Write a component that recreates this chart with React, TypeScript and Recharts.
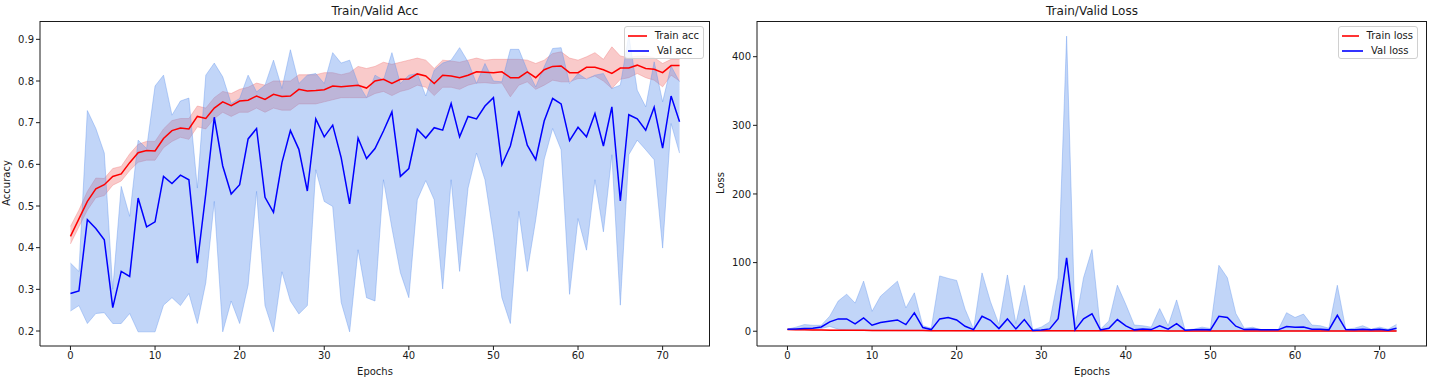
import React from 'react';
import { ComposedChart, Area, Line, XAxis, YAxis, Legend } from 'recharts';

// accuracy per epoch (mean over folds, with min / max band)
const trainAcc = [
  0.427, 0.469, 0.511, 0.541, 0.551, 0.571, 0.577, 0.604, 0.628, 0.633,
  0.632, 0.662, 0.681, 0.687, 0.685, 0.715, 0.710, 0.735, 0.750, 0.741,
  0.752, 0.754, 0.764, 0.756, 0.768, 0.763, 0.764, 0.780, 0.776, 0.777,
  0.779, 0.788, 0.786, 0.788, 0.790, 0.783, 0.800, 0.804, 0.794, 0.804,
  0.805, 0.817, 0.812, 0.794, 0.814, 0.812, 0.808, 0.814, 0.822, 0.821,
  0.820, 0.822, 0.808, 0.808, 0.822, 0.808, 0.827, 0.835, 0.836, 0.820,
  0.820, 0.833, 0.833, 0.827, 0.818, 0.831, 0.831, 0.838, 0.830, 0.828,
  0.820, 0.837, 0.837,
];
const trainAccHigh = [
  0.451, 0.490, 0.535, 0.567, 0.566, 0.590, 0.595, 0.625, 0.648, 0.655,
  0.655, 0.685, 0.705, 0.710, 0.710, 0.740, 0.735, 0.760, 0.775, 0.770,
  0.780, 0.785, 0.795, 0.790, 0.800, 0.800, 0.800, 0.815, 0.815, 0.815,
  0.820, 0.820, 0.815, 0.820, 0.835, 0.830, 0.835, 0.845, 0.840, 0.845,
  0.850, 0.855, 0.850, 0.830, 0.850, 0.848, 0.845, 0.850, 0.855, 0.850,
  0.852, 0.852, 0.852, 0.852, 0.850, 0.842, 0.850, 0.866, 0.870, 0.855,
  0.850, 0.858, 0.868, 0.852, 0.882, 0.860, 0.856, 0.860, 0.860, 0.856,
  0.842, 0.852, 0.852,
];
const trainAccLow = [
  0.409, 0.450, 0.490, 0.520, 0.525, 0.550, 0.560, 0.585, 0.605, 0.610,
  0.610, 0.640, 0.655, 0.665, 0.660, 0.690, 0.685, 0.710, 0.725, 0.715,
  0.725, 0.725, 0.735, 0.725, 0.735, 0.730, 0.730, 0.745, 0.745, 0.745,
  0.750, 0.755, 0.760, 0.760, 0.760, 0.760, 0.770, 0.775, 0.765, 0.775,
  0.780, 0.790, 0.785, 0.765, 0.785, 0.785, 0.780, 0.790, 0.795, 0.796,
  0.794, 0.795, 0.762, 0.790, 0.798, 0.780, 0.790, 0.802, 0.798, 0.798,
  0.806, 0.806, 0.812, 0.800, 0.782, 0.804, 0.808, 0.818, 0.808, 0.802,
  0.786, 0.814, 0.800,
];
const valAcc = [
  0.290, 0.296, 0.467, 0.446, 0.419, 0.256, 0.343, 0.331, 0.519, 0.450,
  0.462, 0.571, 0.554, 0.574, 0.563, 0.363, 0.530, 0.713, 0.596, 0.529,
  0.551, 0.661, 0.686, 0.521, 0.485, 0.604, 0.681, 0.636, 0.536, 0.709,
  0.666, 0.694, 0.616, 0.505, 0.663, 0.614, 0.638, 0.680, 0.726, 0.571,
  0.590, 0.684, 0.663, 0.688, 0.682, 0.746, 0.666, 0.715, 0.709, 0.740,
  0.760, 0.599, 0.644, 0.728, 0.646, 0.611, 0.704, 0.758, 0.745, 0.657,
  0.689, 0.666, 0.722, 0.644, 0.738, 0.512, 0.719, 0.709, 0.682, 0.737,
  0.639, 0.764, 0.702,
];
const valAccHigh = [
  0.363, 0.343, 0.729, 0.686, 0.627, 0.300, 0.547, 0.475, 0.658, 0.638,
  0.788, 0.814, 0.718, 0.752, 0.759, 0.543, 0.814, 0.843, 0.810, 0.746,
  0.758, 0.814, 0.774, 0.790, 0.850, 0.782, 0.875, 0.794, 0.814, 0.818,
  0.794, 0.868, 0.843, 0.850, 0.794, 0.760, 0.814, 0.802, 0.868, 0.794,
  0.814, 0.818, 0.764, 0.826, 0.843, 0.850, 0.880, 0.846, 0.794, 0.842,
  0.800, 0.798, 0.876, 0.876, 0.826, 0.786, 0.834, 0.878, 0.880, 0.794,
  0.818, 0.804, 0.814, 0.818, 0.782, 0.790, 0.910, 0.778, 0.738, 0.846,
  0.750, 0.836, 0.798,
];
const valAccLow = [
  0.248, 0.261, 0.218, 0.242, 0.244, 0.218, 0.218, 0.242, 0.198, 0.198,
  0.198, 0.262, 0.280, 0.261, 0.290, 0.218, 0.316, 0.511, 0.198, 0.272,
  0.218, 0.310, 0.535, 0.261, 0.198, 0.342, 0.272, 0.241, 0.261, 0.587,
  0.511, 0.499, 0.269, 0.198, 0.395, 0.280, 0.272, 0.563, 0.447, 0.340,
  0.280, 0.515, 0.561, 0.515, 0.301, 0.563, 0.343, 0.543, 0.627, 0.563,
  0.430, 0.280, 0.218, 0.487, 0.343, 0.467, 0.612, 0.686, 0.635, 0.288,
  0.470, 0.394, 0.563, 0.438, 0.623, 0.262, 0.623, 0.658, 0.635, 0.611,
  0.399, 0.698, 0.627,
];

// loss per epoch
const trainLoss = [
  2.6, 2.2, 2.0, 1.8, 1.7, 1.6, 1.5, 1.4, 1.3, 1.3,
  1.2, 1.1, 1.1, 1.0, 1.0, 0.95, 0.95, 0.9, 0.85, 0.85,
  0.8, 0.8, 0.8, 0.75, 0.75, 0.75, 0.7, 0.7, 0.7, 0.7,
  0.65, 0.65, 0.65, 0.65, 0.6, 0.6, 0.6, 0.6, 0.6, 0.55,
  0.55, 0.55, 0.55, 0.55, 0.55, 0.5, 0.5, 0.5, 0.5, 0.5,
  0.5, 0.5, 0.5, 0.5, 0.45, 0.45, 0.45, 0.45, 0.45, 0.45,
  0.45, 0.45, 0.45, 0.45, 0.45, 0.4, 0.4, 0.4, 0.4, 0.4,
  0.4, 0.4, 0.4,
];
const trainLossHigh = [
  2.9, 2.5, 2.3, 2.1, 2.0, 1.9, 1.8, 1.7, 1.6, 1.6,
  1.5, 1.4, 1.4, 1.3, 1.3, 1.2, 1.2, 1.2, 1.1, 1.1,
  1.1, 1.1, 1.1, 1.0, 1.0, 1.0, 1.0, 1.0, 1.0, 1.0,
  0.9, 0.9, 0.9, 0.9, 0.9, 0.9, 0.9, 0.9, 0.9, 0.8,
  0.8, 0.8, 0.8, 0.8, 0.8, 0.8, 0.8, 0.8, 0.8, 0.8,
  0.8, 0.8, 0.8, 0.8, 0.7, 0.7, 0.7, 0.7, 0.7, 0.7,
  0.7, 0.7, 0.7, 0.7, 0.7, 0.7, 0.7, 0.7, 0.7, 0.7,
  0.7, 0.7, 0.7,
];
const trainLossLow = [
  2.3, 1.9, 1.7, 1.5, 1.4, 1.3, 1.2, 1.1, 1.0, 1.0,
  0.9, 0.8, 0.8, 0.7, 0.7, 0.7, 0.7, 0.6, 0.6, 0.6,
  0.5, 0.5, 0.5, 0.5, 0.5, 0.5, 0.4, 0.4, 0.4, 0.4,
  0.4, 0.4, 0.4, 0.4, 0.3, 0.3, 0.3, 0.3, 0.3, 0.3,
  0.3, 0.3, 0.3, 0.3, 0.3, 0.2, 0.2, 0.2, 0.2, 0.2,
  0.2, 0.2, 0.2, 0.2, 0.2, 0.2, 0.2, 0.2, 0.2, 0.2,
  0.2, 0.2, 0.2, 0.2, 0.2, 0.1, 0.1, 0.1, 0.1, 0.1,
  0.1, 0.1, 0.1,
];
const valLoss = [
  3.0, 3.4, 4.0, 4.4, 6.3, 13.6, 18.0, 18.0, 10.7, 19.4,
  8.7, 12.6, 14.6, 16.5, 9.7, 26.7, 5.3, 2.4, 18.0, 19.9,
  16.5, 7.3, 2.4, 21.8, 16.0, 3.9, 18.0, 3.4, 17.0, 1.0,
  1.9, 3.4, 18.4, 107.0, 1.9, 18.0, 25.5, 2.0, 4.4, 17.0,
  7.8, 2.0, 3.4, 2.4, 8.0, 3.0, 11.0, 1.5, 2.0, 2.4,
  2.0, 21.8, 20.0, 7.3, 2.4, 3.0, 2.0, 2.0, 2.0, 6.8,
  5.8, 6.3, 3.0, 3.0, 2.0, 23.3, 2.4, 2.0, 3.0, 2.0,
  3.0, 1.5, 4.4,
];
const valLossHigh = [
  3.0, 6.0, 9.7, 8.7, 8.7, 22.0, 44.0, 54.0, 41.0, 73.0,
  29.0, 51.0, 62.0, 73.0, 34.0, 56.0, 8.0, 4.4, 80.6, 77.0,
  74.0, 32.0, 3.0, 85.0, 43.0, 10.0, 82.0, 11.0, 67.0, 2.0,
  6.0, 13.6, 78.0, 430.0, 8.0, 78.0, 119.0, 3.0, 15.0, 67.0,
  39.0, 9.0, 8.0, 6.0, 33.0, 8.0, 45.6, 2.0, 3.0, 6.0,
  4.0, 96.0, 78.0, 26.0, 4.4, 5.8, 2.0, 2.0, 2.0, 27.0,
  20.0, 25.0, 9.0, 8.0, 4.4, 67.0, 3.0, 4.4, 8.0, 3.0,
  6.0, 3.0, 10.0,
];
const valLossLow = [
  2.5, 2.6, 2.8, 3.0, 4.0, 7.0, 3.0, 1.5, 1.0, 1.0,
  0.8, 0.8, 0.8, 0.8, 0.8, 0.8, 0.8, 0.8, 0.8, 0.8,
  0.6, 0.6, 0.6, 0.6, 0.6, 0.6, 0.6, 0.6, 0.6, 0.5,
  0.5, 0.5, 0.5, 0.5, 0.5, 0.5, 0.5, 0.5, 0.5, 0.5,
  0.5, 0.5, 0.5, 0.5, 0.5, 0.5, 0.5, 0.5, 0.5, 0.5,
  0.5, 0.5, 0.5, 0.5, 0.5, 0.5, 0.5, 0.5, 0.5, 0.5,
  0.5, 0.5, 0.5, 0.5, 0.5, 0.5, 0.5, 0.5, 0.5, 0.5,
  0.5, 0.5, 0.5,
];

const epochs = trainAcc.map((_, i) => i);
const xTicks = [0, 10, 20, 30, 40, 50, 60, 70];
const accTicks = [0.2, 0.3, 0.4, 0.5, 0.6, 0.7, 0.8, 0.9];
const lossTicks = [0, 100, 200, 300, 400];

const accRows = epochs.map((e, i) => ({
  epoch: e,
  train: trainAcc[i],
  trainBand: [trainAccLow[i], trainAccHigh[i]],
  val: valAcc[i],
  valBand: [valAccLow[i], valAccHigh[i]],
}));
const lossRows = epochs.map((e, i) => ({
  epoch: e,
  train: trainLoss[i],
  trainBand: [trainLossLow[i], trainLossHigh[i]],
  val: valLoss[i],
  valBand: [valLossLow[i], valLossHigh[i]],
}));

const FONT = '"DejaVu Sans", Verdana, sans-serif';
const INK = '#1a1a1a';
const X_DOMAIN: [number, number] = [-3.6, 75.6];

interface LegendItem {
  label: string;
  color: string;
}

const LegendBox = ({ items }: { items: LegendItem[] }) => (
  <div
    style={{
      boxSizing: 'border-box',
      width: 80,
      height: 33,
      border: '1px solid #d0d0d0',
      borderRadius: 3,
      background: 'rgba(255,255,255,0.8)',
      padding: '1px 4px 1px 3px',
      fontFamily: FONT,
      fontSize: 10,
      lineHeight: '15px',
      color: INK,
    }}
  >
    {items.map((it) => (
      <div key={it.label} style={{ display: 'flex', alignItems: 'center', whiteSpace: 'nowrap' }}>
        <span style={{ display: 'inline-block', width: 21, height: 0, borderTop: `2px solid ${it.color}`, opacity: 0.8, marginRight: 8 }} />
        {it.label}
      </div>
    ))}
  </div>
);

interface PanelProps {
  left: number;
  title: string;
  yLabel: string;
  yLabelX: number;
  rows: typeof accRows;
  yDomain: [number, number];
  yTicks: number[];
  fmt: (v: number) => string;
  legend: LegendItem[];
  legendLeft: number;
}

const Panel = ({ left, title, yLabel, yLabelX, rows, yDomain, yTicks, fmt, legend, legendLeft }: PanelProps) => (
  <div style={{ position: 'absolute', left, top: 0, width: 720, height: 386 }}>
    <ComposedChart width={720} height={386} data={rows} margin={{ top: 21, right: 10, bottom: 0, left: 0 }}>
      <XAxis
        dataKey="epoch"
        type="number"
        domain={X_DOMAIN}
        ticks={xTicks}
        allowDataOverflow
        height={40}
        stroke={INK}
        tickSize={4}
        tick={{ fill: INK, fontSize: 10, fontFamily: FONT }}
      />
      <YAxis
        type="number"
        domain={yDomain}
        ticks={yTicks}
        allowDataOverflow
        width={40}
        stroke={INK}
        tickSize={4}
        tickFormatter={fmt}
        tick={{ fill: INK, fontSize: 10, fontFamily: FONT }}
      />
      <Area
        dataKey="trainBand"
        type="linear"
        fill="#f08080"
        fillOpacity={0.42}
        stroke="#f08080"
        strokeOpacity={0.42}
        strokeWidth={1}
        dot={false}
        activeDot={false}
        isAnimationActive={false}
      />
      <Area
        dataKey="valBand"
        type="linear"
        fill="#6495ed"
        fillOpacity={0.4}
        stroke="#6495ed"
        strokeOpacity={0.4}
        strokeWidth={1}
        dot={false}
        activeDot={false}
        isAnimationActive={false}
      />
      <Line dataKey="train" type="linear" stroke="#ff0000" strokeWidth={1.5} dot={false} activeDot={false} isAnimationActive={false} />
      <Line dataKey="val" type="linear" stroke="#0000ff" strokeWidth={1.5} dot={false} activeDot={false} isAnimationActive={false} />
      <Legend
        layout="vertical"
        align="center"
        verticalAlign="middle"
        width={80}
        height={33}
        wrapperStyle={{ left: legendLeft, top: 26 }}
        content={() => <LegendBox items={legend} />}
      />
    </ComposedChart>
    {/* top and right spines of the axes box */}
    <div
      style={{
        position: 'absolute',
        left: 40,
        top: 21,
        width: 670,
        height: 325,
        boxSizing: 'border-box',
        borderTop: `1px solid ${INK}`,
        borderRight: `1px solid ${INK}`,
        pointerEvents: 'none',
      }}
    />
    <div style={{ position: 'absolute', left: 40, top: 4, width: 670, textAlign: 'center', fontSize: 12, lineHeight: '14px', color: INK }}>
      {title}
    </div>
    <div style={{ position: 'absolute', left: 40, top: 365, width: 670, textAlign: 'center', fontSize: 10, lineHeight: '14px', color: INK }}>
      Epochs
    </div>
    <div
      style={{
        position: 'absolute',
        left: yLabelX,
        top: 183,
        transform: 'translate(-50%, -50%) rotate(-90deg)',
        fontSize: 10,
        lineHeight: '12px',
        whiteSpace: 'nowrap',
        color: INK,
      }}
    >
      {yLabel}
    </div>
  </div>
);

export default function App() {
  return (
    <div style={{ position: 'absolute', left: 0, top: 0, width: 1449, height: 386, background: '#fff', fontFamily: FONT }}>
      <Panel
        left={0}
        title="Train/Valid Acc"
        yLabel="Accuracy"
        yLabelX={7}
        rows={accRows}
        yDomain={[0.164, 0.944]}
        yTicks={accTicks}
        fmt={(v) => v.toFixed(1)}
        legend={[
          { label: 'Train acc', color: '#ff0000' },
          { label: 'Val acc', color: '#0000ff' },
        ]}
        legendLeft={624}
      />
      <Panel
        left={717}
        title="Train/Valid Loss"
        yLabel="Loss"
        yLabelX={4}
        rows={lossRows}
        yDomain={[-21.5, 452]}
        yTicks={lossTicks}
        fmt={(v) => String(v)}
        legend={[
          { label: 'Train loss', color: '#ff0000' },
          { label: 'Val loss', color: '#0000ff' },
        ]}
        legendLeft={621}
      />
    </div>
  );
}
